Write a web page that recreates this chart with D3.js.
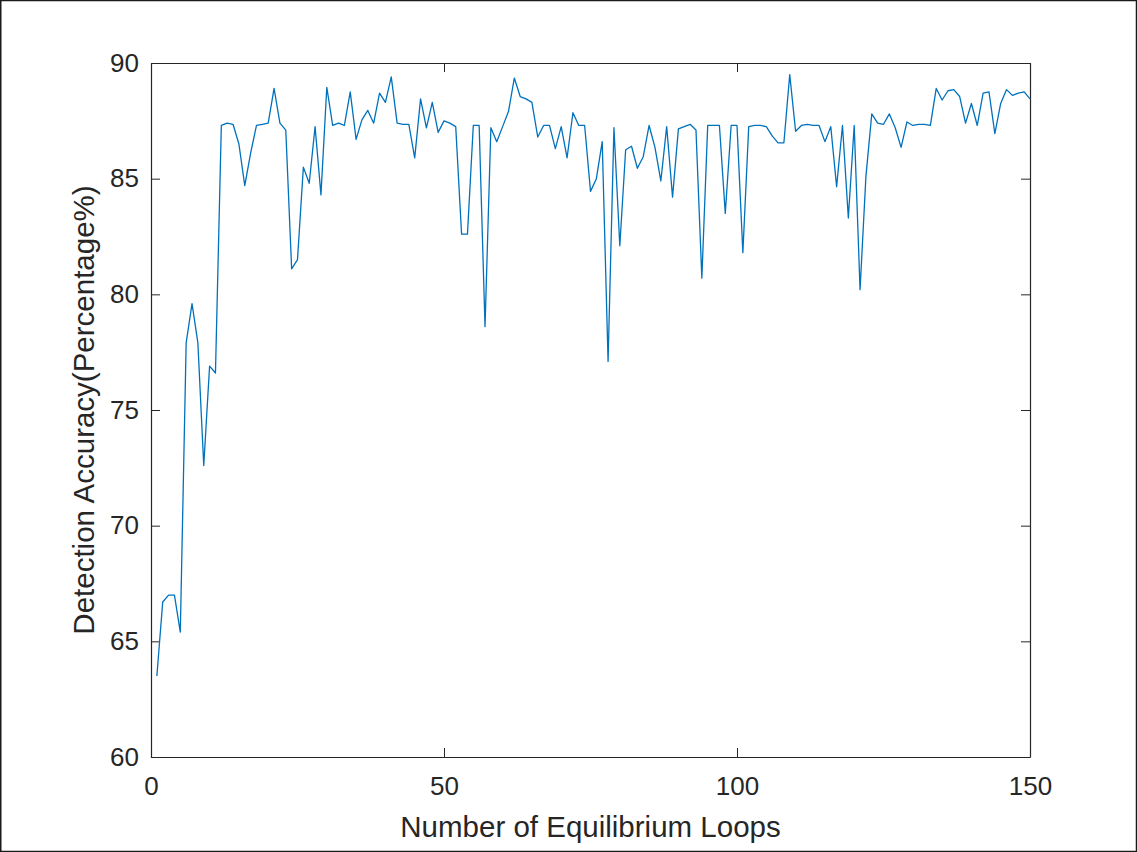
<!DOCTYPE html>
<html>
<head>
<meta charset="utf-8">
<script src="https://cdn.jsdelivr.net/npm/d3@7/dist/d3.min.js"></script>
<style>
  html, body { margin: 0; padding: 0; background: #fff; }
  svg { display: block; }
  text { font-family: "Liberation Sans", Arial, Helvetica, sans-serif; fill: #262626; }
</style>
</head>
<body>
<svg id="chart" width="1137" height="852"></svg>
<script>
// Detection accuracy recorded after each equilibrium loop (loops 1..150)
const loops = d3.range(1, 151);
const accuracy = [
  63.5, 66.7, 67.0, 67.0, 65.4, 77.9, 79.6, 77.9, 72.6, 76.9,
  76.6, 87.3, 87.4, 87.35, 86.5, 84.7, 86.1, 87.3, 87.35, 87.4,
  88.9, 87.4, 87.1, 81.1, 81.5, 85.5, 84.8, 87.25, 84.3, 88.95,
  87.3, 87.4, 87.3, 88.75, 86.7, 87.55, 87.95, 87.4, 88.7, 88.3,
  89.4, 87.4, 87.35, 87.35, 85.9, 88.45, 87.2, 88.3, 87.0, 87.5,
  87.4, 87.25, 82.6, 82.6, 87.3, 87.3, 78.6, 87.2, 86.6, 87.25,
  87.9, 89.35, 88.55, 88.45, 88.3, 86.8, 87.3, 87.3, 86.3, 87.25,
  85.9, 87.85, 87.3, 87.3, 84.45, 85.0, 86.6, 77.1, 87.2, 82.1,
  86.25, 86.4, 85.45, 85.95, 87.3, 86.35, 84.9, 87.25, 84.2, 87.15,
  87.25, 87.35, 87.1, 80.7, 87.3, 87.3, 87.3, 83.5, 87.3, 87.3,
  81.8, 87.25, 87.3, 87.3, 87.25, 86.85, 86.55, 86.55, 89.5, 87.05,
  87.3, 87.35, 87.3, 87.3, 86.6, 87.25, 84.65, 87.3, 83.3, 87.3,
  80.2, 85.1, 87.8, 87.4, 87.35, 87.8, 87.2, 86.35, 87.45, 87.3,
  87.35, 87.35, 87.3, 88.9, 88.4, 88.8, 88.85, 88.55, 87.4, 88.25,
  87.3, 88.7, 88.75, 86.95, 88.25, 88.85, 88.6, 88.7, 88.75, 88.45
];
const xTicks = [0, 50, 100, 150];
const yTicks = [60, 65, 70, 75, 80, 85, 90];
const xLabel = "Number of Equilibrium Loops";
const yLabel = "Detection Accuracy(Percentage%)";

const W = 1137, H = 852;
const margin = { left: 151, right: W - 1030, top: 63, bottom: H - 757 };
const iw = W - margin.left - margin.right;
const ih = H - margin.top - margin.bottom;

const svg = d3.select("#chart");

// Figure frame
svg.append("rect")
  .attr("x", 0.75).attr("y", 0.5)
  .attr("width", W - 1.25).attr("height", H - 1)
  .attr("fill", "#fff").attr("stroke", "#1a1a1a").attr("stroke-width", 1.5);

const g = svg.append("g").attr("transform", `translate(${margin.left},${margin.top})`);

const x = d3.scaleLinear().domain([0, 150]).range([0, iw]);
const y = d3.scaleLinear().domain([60, 90]).range([ih, 0]);

const tickLen = 9;
const axisColor = "#262626";
const tickFont = 26;
const labelFont = 29.5;

function styleAxis(sel) {
  sel.select(".domain").attr("stroke", axisColor).attr("stroke-width", 1.2);
  sel.selectAll(".tick line").attr("stroke", axisColor).attr("stroke-width", 1);
  sel.selectAll(".tick text")
    .attr("fill", "#333")
    .style("font-size", tickFont + "px")
    .style("font-family", '"Liberation Sans", Arial, Helvetica, sans-serif');
}

// Bottom axis with inward ticks
g.append("g").attr("transform", `translate(0,${ih})`)
  .call(d3.axisBottom(x).tickValues(xTicks).tickFormat(d3.format("d"))
    .tickSizeInner(-tickLen).tickSizeOuter(0).tickPadding(20))
  .call(styleAxis);

// Top axis (mirrored ticks, no labels)
g.append("g")
  .call(d3.axisTop(x).tickValues(xTicks).tickFormat("")
    .tickSizeInner(-tickLen).tickSizeOuter(0))
  .call(styleAxis);

// Left axis with inward ticks
g.append("g")
  .call(d3.axisLeft(y).tickValues(yTicks).tickFormat(d3.format("d"))
    .tickSizeInner(-tickLen).tickSizeOuter(0).tickPadding(12))
  .call(styleAxis);

// Right axis (mirrored ticks, no labels)
g.append("g").attr("transform", `translate(${iw},0)`)
  .call(d3.axisRight(y).tickValues(yTicks).tickFormat("")
    .tickSizeInner(-tickLen).tickSizeOuter(0))
  .call(styleAxis);

// Accuracy curve
const line = d3.line()
  .x((d, i) => x(loops[i]))
  .y(d => y(d));

g.append("path")
  .datum(accuracy)
  .attr("fill", "none")
  .attr("stroke", "#0072BD")
  .attr("stroke-width", 1.3)
  .attr("stroke-linejoin", "round")
  .attr("d", line);

// Axis titles
svg.append("text")
  .attr("x", margin.left + iw / 2)
  .attr("y", 837)
  .attr("text-anchor", "middle")
  .attr("fill", "#333")
  .style("font-size", labelFont + "px")
  .text(xLabel);

svg.append("text")
  .attr("transform", `translate(94,${margin.top + ih / 2}) rotate(-90)`)
  .attr("text-anchor", "middle")
  .attr("fill", "#333")
  .style("font-size", labelFont + "px")
  .text(yLabel);
</script>
</body>
</html>
